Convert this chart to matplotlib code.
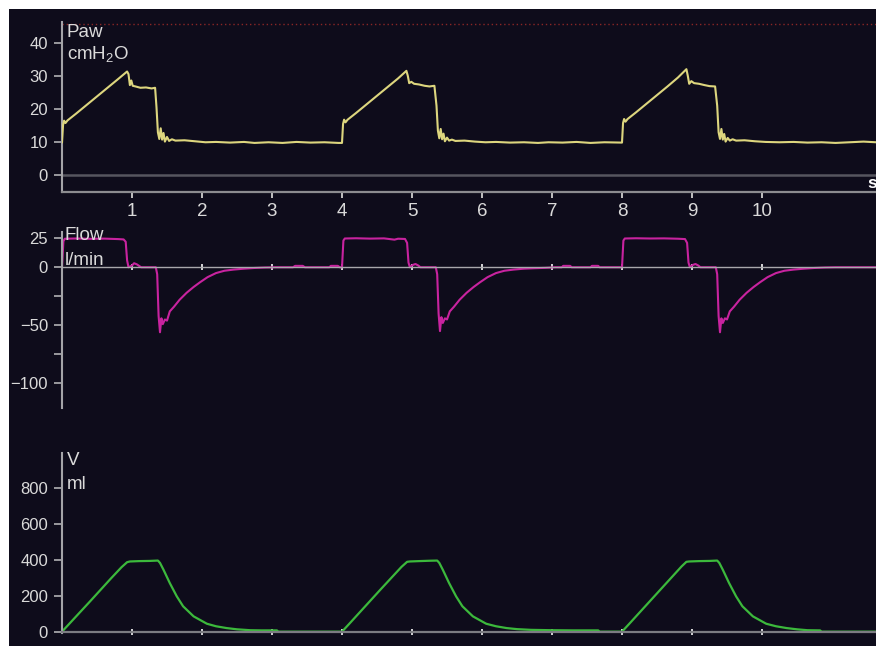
import matplotlib
matplotlib.use("Agg")
import matplotlib.pyplot as plt
from matplotlib.patches import Rectangle

plt.rcParams['font.family'] = ['Liberation Sans', 'DejaVu Sans']
plt.rcParams['mathtext.fontset'] = 'custom'
plt.rcParams['mathtext.rm'] = 'Liberation Sans'
plt.rcParams['mathtext.it'] = 'Liberation Sans'

# ---------------- data ----------------
# Airway pressure Paw (cmH2O) vs time (s)
paw_t = [0.00, 0.015, 0.03, 0.05, 0.08, 0.20, 0.35, 0.50, 0.65, 0.80, 0.93, 0.95, 0.97, 0.99, 1.01,
         1.05, 1.12, 1.20, 1.28, 1.33, 1.35, 1.37, 1.39, 1.41, 1.43, 1.45, 1.47, 1.50, 1.53, 1.57,
         1.62, 1.75, 1.90, 2.05, 2.20, 2.40, 2.60, 2.75, 2.95, 3.15, 3.35, 3.55, 3.75, 3.95,
         4.00, 4.015, 4.03, 4.05, 4.08, 4.20, 4.35, 4.50, 4.65, 4.80, 4.92, 4.94, 4.96, 4.99, 5.03,
         5.10, 5.18, 5.25, 5.32, 5.35, 5.37, 5.39, 5.41, 5.43, 5.45, 5.47, 5.50, 5.53, 5.57,
         5.62, 5.75, 5.90, 6.05, 6.20, 6.40, 6.60, 6.80, 6.95, 7.15, 7.35, 7.55, 7.75, 7.95,
         8.00, 8.015, 8.03, 8.05, 8.08, 8.20, 8.35, 8.50, 8.65, 8.80, 8.92, 8.94, 8.96, 8.99, 9.03,
         9.10, 9.18, 9.25, 9.33, 9.36, 9.38, 9.40, 9.42, 9.44, 9.46, 9.48, 9.51, 9.54, 9.58,
         9.63, 9.75, 9.90, 10.05, 10.25, 10.45, 10.65, 10.85, 11.05, 11.25, 11.45, 11.63]
paw_v = [10.0, 15.2, 16.5, 15.8, 16.6, 18.6, 21.2, 23.8, 26.4, 29.0, 31.3, 30.5, 27.2, 28.6, 27.0,
         26.8, 26.4, 26.5, 26.2, 26.4, 20.5, 13.0, 11.0, 14.2, 10.8, 12.8, 10.2, 11.6, 10.4, 10.9,
         10.5, 10.6, 10.3, 10.0, 10.1, 9.9, 10.1, 9.8, 10.0, 9.8, 10.1, 9.9, 10.0, 9.8,
         9.8, 15.5, 16.8, 16.0, 16.8, 18.8, 21.4, 24.0, 26.6, 29.2, 31.5, 30.0, 27.8, 28.2, 27.6,
         27.4, 27.0, 26.8, 27.0, 21.0, 13.5, 11.2, 14.0, 10.9, 12.6, 10.3, 11.4, 10.5, 10.8,
         10.4, 10.5, 10.2, 10.0, 10.1, 9.9, 10.0, 9.8, 10.0, 9.9, 10.1, 9.8, 10.0, 9.9,
         9.9, 15.8, 17.0, 16.2, 17.0, 19.0, 21.6, 24.2, 26.8, 29.5, 32.0, 30.0, 27.6, 28.4, 27.8,
         27.6, 27.2, 26.9, 26.8, 21.0, 13.0, 11.0, 14.0, 10.8, 12.5, 10.2, 11.3, 10.5, 10.9,
         10.5, 10.6, 10.3, 10.1, 10.0, 10.1, 9.9, 10.0, 9.8, 10.0, 10.2, 10.0]

# Flow (l/min) vs time (s)
flow_t = [0.00, 0.02, 0.04, 0.20, 0.40, 0.60, 0.80, 0.88, 0.91, 0.93, 0.95, 1.00, 1.03, 1.07, 1.10,
          1.13, 1.34, 1.36, 1.38, 1.40, 1.42, 1.44, 1.47, 1.50, 1.54, 1.60, 1.68, 1.78, 1.88, 1.97,
          2.08, 2.20, 2.32, 2.45, 2.60, 2.75, 2.90, 3.05, 3.30, 3.33, 3.44, 3.47, 3.82, 3.84, 3.94, 3.97,
          4.00, 4.02, 4.04, 4.20, 4.40, 4.60, 4.75, 4.80, 4.90, 4.93, 4.95, 4.97, 5.01, 5.05, 5.09,
          5.12, 5.34, 5.36, 5.38, 5.40, 5.42, 5.44, 5.47, 5.50, 5.54, 5.60, 5.68, 5.78, 5.88, 5.97,
          6.08, 6.20, 6.32, 6.45, 6.60, 6.75, 6.90, 7.05, 7.14, 7.16, 7.26, 7.28, 7.55, 7.57, 7.66, 7.68,
          8.00, 8.02, 8.04, 8.20, 8.40, 8.60, 8.80, 8.90, 8.93, 8.95, 8.97, 9.01, 9.05, 9.09,
          9.12, 9.34, 9.36, 9.38, 9.40, 9.42, 9.44, 9.47, 9.50, 9.54, 9.60, 9.68, 9.78, 9.88, 9.97,
          10.08, 10.20, 10.32, 10.45, 10.60, 10.75, 10.90, 11.05, 11.63]
flow_v = [0, 22.5, 24.6, 24.8, 24.5, 24.7, 24.3, 24.0, 22.0, 6.0, 0.0, 1.5, 3.5, 2.5, 1.2,
          0, 0, -6, -42, -56, -44, -49, -45, -46, -38, -34, -28, -22, -17, -13,
          -8.5, -5, -3, -2, -1.2, -0.6, -0.2, 0, 0, 1.2, 1.2, 0, 0, 1.2, 1.2, 0,
          0, 23.0, 24.8, 25.0, 24.7, 24.9, 23.8, 24.6, 24.4, 21.0, 4.0, 0, 2.0, 2.8, 1.5,
          0, 0, -6, -40, -55, -43, -48, -44, -45, -38, -34, -28, -22, -17, -13,
          -8.5, -5, -3, -2, -1.2, -0.8, -0.5, 0, 0, 1.2, 1.2, 0, 0, 1.2, 1.2, 0,
          0, 23.0, 24.8, 25.0, 24.8, 24.9, 24.6, 24.3, 21.0, 4.0, 0, 2.0, 2.8, 1.5,
          0, 0, -6, -42, -56, -44, -48, -44, -45, -38, -34, -28, -22, -17, -13,
          -8.5, -5, -3, -2, -1.2, -0.6, -0.2, 0, 0]

# Volume (ml) vs time (s)
vol_t = [0.00, 0.10, 0.25, 0.40, 0.55, 0.70, 0.85, 0.93, 0.97, 1.10, 1.25, 1.37, 1.40, 1.45, 1.54,
         1.64, 1.73, 1.88, 2.07, 2.20, 2.35, 2.50, 2.69, 2.85, 3.07, 3.09,
         4.00, 4.10, 4.25, 4.40, 4.55, 4.70, 4.85, 4.93, 4.97, 5.10, 5.25, 5.36, 5.39, 5.44, 5.53,
         5.63, 5.72, 5.87, 6.06, 6.20, 6.35, 6.50, 6.70, 7.00, 7.30, 7.66, 7.68,
         8.00, 8.10, 8.25, 8.40, 8.55, 8.70, 8.85, 8.92, 8.96, 9.10, 9.25, 9.36, 9.39, 9.44, 9.53,
         9.63, 9.72, 9.87, 10.06, 10.20, 10.35, 10.50, 10.65, 10.83, 10.85, 11.63]
vol_v = [0, 42, 105, 168, 232, 296, 358, 386, 390, 392, 393, 395, 382, 344, 270,
         196, 141, 85, 44, 30, 20, 13, 8, 7, 7, 0,
         0, 42, 106, 170, 234, 297, 360, 388, 390, 392, 394, 395, 382, 344, 270,
         196, 141, 85, 44, 30, 20, 14, 10, 8, 7, 7, 0,
         0, 42, 106, 170, 234, 298, 362, 388, 390, 392, 393, 395, 382, 344, 270,
         196, 141, 85, 44, 30, 20, 13, 8, 7, 0, 0]

time_ticks = [1, 2, 3, 4, 5, 6, 7, 8, 9, 10]
paw_ticks = [0, 10, 20, 30, 40]
flow_ticks = [25, 0, -50, -100]
flow_minor = [-25, -75]
vol_ticks = [0, 200, 400, 600, 800]
paw_alarm = 45.5

# ---------------- styling ----------------
W, H = 876, 646
BG = '#0e0c1b'
TXT = '#dadada'
SPINE = '#a4a4a8'
PAW_C = '#ddd67e'
FLOW_C = '#c8239f'
VOL_C = '#3cb93c'

fig = plt.figure(figsize=(W / 100, H / 100), dpi=100, facecolor='white')
fig.patches.append(Rectangle((9 / W, 0), 1 - 9 / W, 1 - 9 / H, transform=fig.transFigure,
                             facecolor=BG, edgecolor='none', zorder=-10))


def px_axes(left, top, right, bottom):
    ax = fig.add_axes([left / W, 1 - bottom / H, (right - left) / W, (bottom - top) / H])
    ax.set_facecolor('none')
    for s in ('top', 'right'):
        ax.spines[s].set_visible(False)
    ax.spines['left'].set_color(SPINE)
    ax.spines['left'].set_linewidth(1.5)
    ax.tick_params(axis='y', direction='out', length=6, width=1.3, color=SPINE,
                   labelcolor=TXT, labelsize=12, pad=4)
    ax.set_xlim(0, (W - 62) / 70)
    return ax


# --- Paw panel ---
ax1 = px_axes(62, 22, W, 192)
ax1.set_ylim(-4.97, 46.2)
ax1.spines['bottom'].set_color('#8c8c90')
ax1.spines['bottom'].set_linewidth(1.6)
ax1.axhline(0, color='#56565f', lw=1.8, zorder=1)
ax1.axhline(paw_alarm, color='#8a2626', lw=1.0, ls=(0, (1, 2)), zorder=1)
ax1.plot(paw_t, paw_v, color=PAW_C, lw=1.5, zorder=3)
ax1.set_yticks(paw_ticks)
ax1.set_xticks(time_ticks)
ax1.set_xticklabels([str(t) for t in time_ticks])
ax1.tick_params(axis='x', direction='out', length=4, width=1.3, color='#cfcfcf',
                labelcolor=TXT, labelsize=13.5, pad=4)
ax1.text(11.50, -2.4, 's', color='white', fontsize=12.5, fontweight='bold',
         ha='left', va='center', clip_on=False)

# --- Flow panel ---
ax2 = px_axes(62, 232, W, 408.3)
ax2.set_ylim(-121.55, 30.4)
ax2.spines['bottom'].set_position(('data', 0))
ax2.spines['bottom'].set_color('#a8a8ac')
ax2.spines['bottom'].set_linewidth(1.0)
ax2.plot(flow_t, flow_v, color=FLOW_C, lw=1.5, zorder=2)
ax2.set_yticks(flow_ticks)
ax2.set_yticklabels(['25', '0', '\u221250', '\u2212100'])
ax2.set_yticks(flow_minor, minor=True)
ax2.tick_params(axis='y', which='minor', direction='out', length=6, width=1.3, color=SPINE)
ax2.set_xticks(time_ticks)
ax2.tick_params(axis='x', direction='inout', length=5, width=1.3, color='#e6e6e6',
                labelbottom=False)

# --- Volume panel ---
ax3 = px_axes(62, 453.3, W, 633.1)
ax3.set_ylim(-8, 991)
ax3.spines['bottom'].set_position(('data', 0))
ax3.spines['bottom'].set_color('#7c7c82')
ax3.spines['bottom'].set_linewidth(1.6)
ax3.plot(vol_t, vol_v, color=VOL_C, lw=1.6, zorder=2)
ax3.set_yticks(vol_ticks)
ax3.set_xticks(time_ticks)
ax3.tick_params(axis='x', direction='inout', length=5, width=1.3, color='#e6e6e6',
                labelbottom=False)

# --- panel labels ---
def lab(x, y, s):
    fig.text(x / W, 1 - y / H, s, color=TXT, fontsize=13.5, ha='left', va='baseline')

lab(67, 37, 'Paw')
lab(67, 59, r'cmH$_\mathregular{2}$O')
lab(65, 240, 'Flow')
lab(65, 265, 'l/min')
lab(67, 465, 'V')
lab(67, 489, 'ml')

fig.savefig('out.png', dpi=100, facecolor=fig.get_facecolor())
